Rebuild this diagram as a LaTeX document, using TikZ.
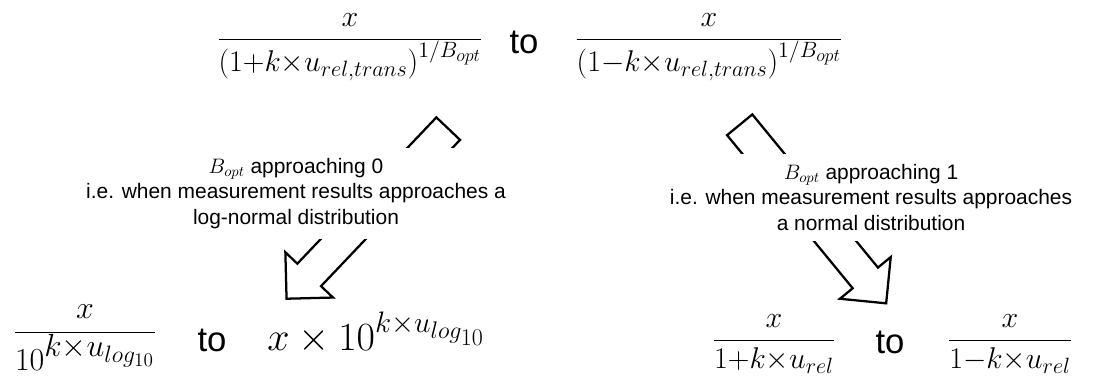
\RequirePackage{fix-cm}
\documentclass[tikz,border=0pt]{standalone}
\usepackage{fontspec}
\setmainfont{Liberation Sans}
\usetikzlibrary{shapes.arrows}

% script sizes a little larger than TeX's own
\DeclareMathSizes{22.5}{22.5}{16.6}{13.5}
\DeclareMathSizes{24}{24}{17.8}{14.4}
\DeclareMathSizes{30}{30}{22.2}{18}

\tikzset{
  bigarrow/.style={draw, line width=1.7pt, fill=white, single arrow,
    single arrow tip angle=90, single arrow head extend=12.4pt,
    inner xsep=0pt, inner ysep=11.4pt},
  note/.style={fill=white, align=center, inner xsep=3pt, inner ysep=8pt,
    font=\fontsize{15.7}{19}\selectfont},
  formula/.style={inner sep=0pt, anchor=base, font=\fontsize{22.5}{26}\selectfont},
  bigformula/.style={inner sep=0pt, anchor=base west, font=\fontsize{30}{34}\selectfont},
  joinword/.style={inner sep=0pt, font=\fontsize{26}{30}\selectfont}
}

\begin{document}
\begin{tikzpicture}[x=0.75pt, y=0.75pt]
\useasboundingbox (0,0) rectangle (1118,-376);

% top pair
\node[formula] (ftl) at (350,-47) {$\displaystyle\frac{x}{\bigl(1{+}k{\times}u_{rel,trans}\bigr)^{1/B_{opt}}}$};
\node[joinword] (ttop) at (524,-42) {to};
\node[formula] (ftr) at (709,-47) {$\displaystyle\frac{x}{\bigl(1{-}k{\times}u_{rel,trans}\bigr)^{1/B_{opt}}}$};

% block arrows
\node[bigarrow, minimum height=176pt, rotate=226.46] (arr0) at (373,-207.75) {};
\node[bigarrow, minimum height=173.2pt, rotate=-50.63] (arr1) at (807.75,-207.75) {};

% labels over the arrows
\node[note] (lbl0) at (296,-193.5) {$B_{opt}$ approaching 0\\i.e. when measurement results approaches a\\log-normal distribution};
\node[note] (lbl1) at (871,-197.5) {$B_{opt}$ approaching 1\\i.e. when measurement results approaches\\a normal distribution};

% bottom left
\node[formula, font=\fontsize{24}{28}\selectfont] (fbl) at (85,-340.5) {$\displaystyle\frac{x}{10^{\textstyle k{\times}u_{log_{10}}}}$};
\node[joinword] (tbl) at (212,-340) {to};
\node[bigformula] (pbl) at (267,-350) {$x\times10^{k{\times}u_{log_{10}}}$};

% bottom right
\node[formula] (fbr1) at (774,-347.5) {$\displaystyle\frac{x}{1{+}k{\times}u_{rel}}$};
\node[joinword] (tbr) at (890,-342) {to};
\node[formula] (fbr2) at (1010,-347.5) {$\displaystyle\frac{x}{1{-}k{\times}u_{rel}}$};
\end{tikzpicture}
\end{document}
